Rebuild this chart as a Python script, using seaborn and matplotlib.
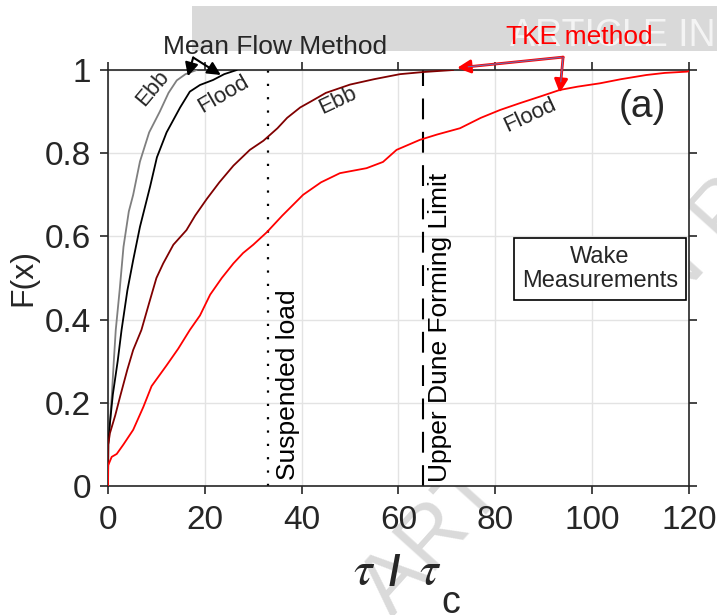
import numpy as np
import pandas as pd
import matplotlib
matplotlib.use("Agg")
import matplotlib.pyplot as plt
from matplotlib.patches import Rectangle
import seaborn as sns

# ---------------- data ----------------
mf_ebb_x = [0, 0.05, 0.3, 0.8, 1.2, 1.6, 2.4, 3.2, 4.3, 5.2, 6.6, 8.5, 10.7, 12.5, 14.2, 16.0, 18.3]
mf_ebb_F = [0, 0.10, 0.135, 0.22, 0.30, 0.375, 0.47, 0.575, 0.66, 0.70, 0.78, 0.85, 0.90, 0.945, 0.975, 0.99, 1.0]

mf_flood_x = [0, 0.05, 0.3, 1.0, 2.0, 2.8, 4.0, 5.2, 6.6, 8.7, 10.1, 12.1, 14.9, 16.9, 19.0, 21.7, 24.0, 26.6]
mf_flood_F = [0, 0.10, 0.14, 0.22, 0.30, 0.375, 0.47, 0.543, 0.623, 0.72, 0.79, 0.85, 0.91, 0.948, 0.964, 0.976, 0.99, 1.0]

tke_ebb_x = [0, 0.05, 0.4, 1.5, 2.5, 4.0, 5.2, 6.9, 8.5, 10.0, 11.4, 13.5, 16.2, 18.0, 20.4, 23.0, 25.9,
             29.3, 32.1, 35.0, 37.0, 39.7, 42.0, 45.0, 50.0, 55.0, 60.3, 65.0, 71.3]
tke_ebb_F = [0, 0.10, 0.127, 0.17, 0.215, 0.28, 0.327, 0.375, 0.44, 0.50, 0.535, 0.58, 0.615, 0.65, 0.69, 0.73, 0.77,
             0.808, 0.83, 0.86, 0.885, 0.91, 0.925, 0.945, 0.965, 0.978, 0.99, 0.995, 1.0]

tke_flood_x = [0, 0.05, 0.76, 1.8, 3.2, 5.2, 7.3, 9.0, 12.1, 14.5, 16.9, 19.0, 21.1, 23.5, 25.9, 27.9, 30.0,
               32.8, 36.0, 40.3, 44.0, 47.9, 53.4, 56.8, 59.6, 64.4, 68.0, 72.7, 77.0, 81.0, 85.0, 89.2,
               93.3, 97.0, 101.6, 106.0, 111.2, 115.0, 119.5, 120.0]
tke_flood_F = [0, 0.05, 0.07, 0.077, 0.10, 0.135, 0.19, 0.24, 0.29, 0.33, 0.375, 0.41, 0.46, 0.50, 0.535, 0.56, 0.58,
               0.61, 0.65, 0.70, 0.73, 0.752, 0.764, 0.779, 0.808, 0.832, 0.845, 0.86, 0.885, 0.904, 0.92, 0.936,
               0.952, 0.96, 0.968, 0.978, 0.988, 0.993, 0.996, 0.997]

suspended_load = 33
upper_dune_limit = 65
x_ticks = [0, 20, 40, 60, 80, 100, 120]
y_ticks = [0, 0.2, 0.4, 0.6, 0.8, 1.0]
y_ticklabels = ["0", "0.2", "0.4", "0.6", "0.8", "1"]

# ---------------- style ----------------
sns.set_style("white")
plt.rcParams["font.family"] = ["Liberation Sans", "DejaVu Sans"]
plt.rcParams["mathtext.fontset"] = "stix"

fig = plt.figure(figsize=(7.17, 6.15), dpi=100)
ax = fig.add_axes([108/717, 1-486/615, (689-108)/717, (486-70)/615])
ax.set_facecolor("white")

curves = [
    (mf_ebb_x, mf_ebb_F, "#7f7f7f"),
    (mf_flood_x, mf_flood_F, "#000000"),
    (tke_ebb_x, tke_ebb_F, "#800000"),
    (tke_flood_x, tke_flood_F, "#ff0000"),
]
for xs, fs, c in curves:
    sns.lineplot(x=xs, y=fs, color=c, lw=1.3, sort=False, ax=ax, estimator=None, zorder=3)

ax.axvline(suspended_load, color="k", lw=1.6, ls=(0, (1, 5)), zorder=2)
ax.axvline(upper_dune_limit, color="k", lw=1.5, ls=(0, (10, 6)), zorder=2)

ax.set_xlim(0, 120)
ax.set_ylim(0, 1)
ax.set_xticks(x_ticks)
ax.set_xticklabels([str(v) for v in x_ticks])
ax.set_yticks(y_ticks)
ax.set_yticklabels(y_ticklabels)
ax.grid(True, color="#e3e3e3", lw=1.0)
ax.set_axisbelow(True)
for s in ax.spines.values():
    s.set_color("#262626")
    s.set_linewidth(1.2)
ax.tick_params(direction="out", length=6, width=1.2, color="#262626",
               labelsize=24, labelcolor="#262626", top=True, right=True,
               bottom=True, left=True)
ax.tick_params(axis="x", pad=8)
ax.tick_params(axis="y", pad=6)

ax.set_ylabel("F(x)", fontsize=23, color="#262626", labelpad=5)

# x label: tau / tau_c
fig.text(364/717, 1-572/615, r"$\tau$", ha="center", va="center", fontsize=34, color="#262626")
fig.text(394/717, 1-574/615, "/", ha="center", va="center", fontsize=30,
         fontweight="bold", color="#262626")
fig.text(430/717, 1-572/615, r"$\tau$", ha="center", va="center", fontsize=34, color="#262626")
fig.text(451/717, 1-603/615, "c", ha="center", va="center", fontsize=27, color="#262626")

# text annotations
ax.text(37.2, 0.015, "Suspended load", rotation=90, rotation_mode="anchor",
        ha="left", va="center", fontsize=19, color="k")
ax.text(68.6, 0.01, "Upper Dune Forming Limit", rotation=90, rotation_mode="anchor",
        ha="left", va="center", fontsize=19, color="k")
ax.text(9.3, 0.955, "Ebb", rotation=50, ha="center", va="center", fontsize=16)
ax.text(23.8, 0.942, "Flood", rotation=30, ha="center", va="center", fontsize=16)
ax.text(47.5, 0.926, "Ebb", rotation=25, ha="center", va="center", fontsize=16)
ax.text(87.2, 0.89, "Flood", rotation=25, ha="center", va="center", fontsize=16)
ax.text(110.3, 0.911, "(a)", ha="center", va="center", fontsize=28)
ax.text(101.6, 0.522, "Wake\nMeasurements", ha="center", va="center", fontsize=17,
        linespacing=1.1,
        bbox=dict(boxstyle="square,pad=0.35", fc="white", ec="k", lw=1.2))

ax.text(34.5, 1.055, "Mean Flow Method", ha="center", va="center", fontsize=19,
        clip_on=False, zorder=6)
for tip in [(16.5, 0.985), (23.3, 0.988)]:
    ax.annotate("", xy=tip, xytext=(17.6, 1.03), annotation_clip=False,
                arrowprops=dict(arrowstyle="-|>", color="k", lw=1.5,
                                mutation_scale=20, shrinkA=0, shrinkB=0))

ax.text(97.3, 1.079, "TKE method", ha="center", va="center", fontsize=19,
        color="red", clip_on=False, zorder=6)
for tip in [(72.1, 1.005), (93.3, 0.945)]:
    ax.annotate("", xy=tip, xytext=(94.0, 1.031), annotation_clip=False,
                arrowprops=dict(arrowstyle="-|>", fc="red", ec="red", lw=2.0,
                                mutation_scale=20, shrinkA=0, shrinkB=0))
    ax.annotate("", xy=tip, xytext=(94.0, 1.031), annotation_clip=False,
                arrowprops=dict(arrowstyle="-", color="#6a6fb0", lw=0.8,
                                shrinkA=0, shrinkB=8))

# publisher watermark
fig.patches.append(Rectangle((192/717, 1-51/615), 1, 45/615, transform=fig.transFigure,
                             fc="#d9d9d9", ec="none", zorder=-2))
fig.text(510/717, 1-46/615, "ARTICLE IN PRESS", color="#f4f4f4", fontsize=27,
         va="baseline", ha="left", zorder=-1)
fig.text(392/717, 1-618/615, "ARTICLE IN PRESS", color="#dadada", fontsize=62,
         rotation=48, rotation_mode="anchor", va="baseline", ha="left", zorder=-1)

fig.savefig("out.png", dpi=100)
